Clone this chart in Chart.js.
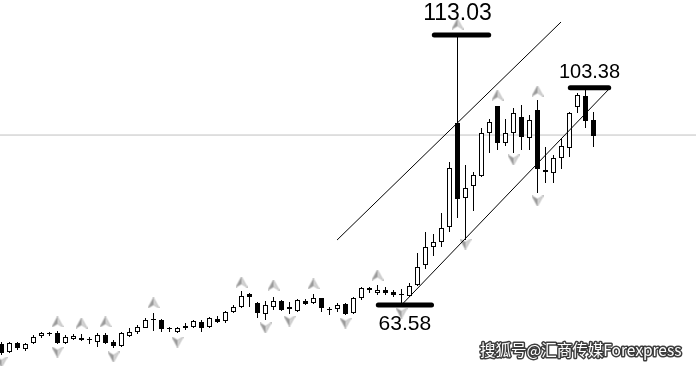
<!DOCTYPE html>
<html>
<head>
<meta charset="utf-8">
<script src="https://cdn.jsdelivr.net/npm/chart.js@4.4.0/dist/chart.umd.min.js"></script>
<style>
html,body{margin:0;padding:0;background:#fff;}
#wrap{position:relative;width:696px;height:366px;}
</style>
</head>
<body>
<div id="wrap"><canvas id="c"></canvas></div>
<script>
// ---- data ----
const opens  = [56.44,54.97,56.62,55.52,56.62,57.90,58.27,58.45,56.62,57.35,57.54,57.17,56.80,58.08,56.80,56.07,57.90,58.63,59.37,60.83,
                60.83,59.18,58.63,59.73,59.55,60.47,59.55,61.02,60.65,62.30,63.21,65.59,63.95,61.93,63.21,64.31,62.85,62.48,64.31,63.95,
                64.86,62.66,62.85,63.76,62.11,64.86,66.69,65.78,66.33,65.96,65.41,65.23,67.24,70.91,74.20,75.12,77.86,96.91,83.18,85.37,
                87.20,95.08,100.03,93.25,95.08,98.01,94.17,99.29,88.30,87.75,90.50,92.33,99.84,101.86,97.46];
const highs  = [56.80,56.80,56.80,56.62,58.08,58.63,58.63,58.82,58.08,58.27,58.27,57.72,58.45,58.45,57.17,58.63,59.37,59.92,61.20,62.11,
                61.02,59.55,59.55,60.28,60.83,60.83,61.38,61.56,62.48,63.58,66.14,65.78,64.13,64.31,65.04,64.49,64.13,64.68,64.68,65.59,
                64.86,63.21,63.95,63.95,65.04,66.88,66.88,67.24,66.88,66.33,66.50,67.61,73.10,76.95,76.58,80.43,89.77,113.03,89.22,87.94,
                96.00,97.64,100.03,97.64,99.66,100.21,98.38,101.13,92.52,91.05,93.98,98.93,102.41,103.38,98.93];
const lows   = [54.42,54.79,55.34,55.15,56.44,57.54,57.90,56.44,56.44,57.17,56.99,56.44,55.89,56.44,55.70,55.89,57.72,58.27,59.37,58.82,
                58.63,58.63,58.45,59.00,59.37,58.63,59.37,60.28,60.28,62.11,63.03,63.21,61.20,60.83,62.66,62.48,61.93,62.30,63.58,63.76,
                62.30,61.75,62.30,61.75,61.93,64.49,65.78,65.41,65.41,65.04,63.58,65.04,67.06,70.17,72.55,74.20,76.95,79.51,75.48,80.80,
                87.02,91.42,91.97,92.70,91.42,91.97,91.97,84.09,85.92,85.92,88.49,90.69,98.74,96.00,92.52];
const closes = [54.79,56.62,55.70,56.44,57.72,58.45,58.27,56.62,57.72,57.90,57.17,57.17,58.08,56.62,56.07,58.45,58.63,59.55,60.83,60.90,
                59.18,59.18,59.37,59.37,60.65,59.37,61.20,60.47,62.30,63.21,65.23,65.04,62.11,63.58,64.31,62.66,63.21,64.49,63.76,64.86,
                63.03,62.66,63.58,61.93,64.86,66.69,66.33,66.33,65.78,65.41,65.41,67.06,70.54,74.20,75.12,77.68,88.67,82.99,85.01,87.39,
                95.08,97.10,93.25,95.08,98.74,94.35,97.46,88.49,87.94,90.50,92.70,98.74,102.04,97.28,94.53];

// fractal arrows: candle index and price where the arrow sits
const upArrowIdx     = [7, 10, 13, 19, 30, 34, 39, 47, 57, 62, 67];
const upArrowPrice   = [60.47, 60.28, 60.47, 63.95, 67.79, 67.24, 67.43, 69.07, 115.04, 102.04, 102.77];
const downArrowIdx   = [0, 7, 14, 22, 33, 36, 43, 50, 58, 64, 67];
const downArrowPrice = [53.14, 54.97, 54.06, 56.80, 59.37, 60.65, 60.28, 62.11, 74.75, 90.14, 82.63];

// trend lines (candle index, price)
const upperLineX = [41.94, 69.94];
const upperLineY = [75.48, 115.41];
const lowerLineX = [50.0, 76.06];
const lowerLineY = [63.58, 103.32];

// marked extremes: price, bar start/end index, label
const markPrices = [113.03, 63.58, 103.38];
const markFrom   = [54.1, 47.1, 71.1];
const markTo     = [60.9, 53.75, 75.9];
const markLabels = ['113.03', '63.58', '103.38'];

const currentPrice = 94.71;
const watermark = '搜狐号@汇商传媒Forexpress';

// ---- build ----
const idx = opens.map((_, i) => i);
const bodyData = idx.map(i => ({x: i, y: [opens[i], closes[i]]}));
const wickData = idx.map(i => ({x: i, y: [lows[i], highs[i]]}));
const bodyColors = idx.map(i => closes[i] >= opens[i] ? '#ffffff' : '#000000');

function makeArrow(up) {
  const c = document.createElement('canvas');
  c.width = 12; c.height = 11;
  const g = c.getContext('2d');
  if (!up) { g.translate(0, 11); g.scale(1, -1); }
  g.fillStyle = '#9a9a9a';
  g.beginPath(); g.moveTo(6, 0); g.lineTo(6, 7.5); g.lineTo(0, 11); g.closePath(); g.fill();
  g.fillStyle = '#d2d2d2';
  g.beginPath(); g.moveTo(6, 0); g.lineTo(12, 11); g.lineTo(6, 7.5); g.closePath(); g.fill();
  g.strokeStyle = '#b4b4b4'; g.lineWidth = 0.6;
  g.beginPath(); g.moveTo(6, 0); g.lineTo(12, 11); g.lineTo(6, 7.5); g.lineTo(0, 11); g.closePath(); g.stroke();
  return c;
}
const upImg = makeArrow(true), downImg = makeArrow(false);

const markDatasets = markPrices.map((p, i) => ({
  type: 'line', order: 0,
  data: [{x: markFrom[i], y: p}, {x: markTo[i], y: p}],
  borderColor: '#000', borderWidth: 5, borderCapStyle: 'round', pointRadius: 0
}));

const labelPlugin = {
  id: 'labels',
  afterDatasetsDraw(chart) {
    const ctx = chart.ctx, xs = chart.scales.x, ys = chart.scales.y;
    ctx.save();
    ctx.fillStyle = '#000';
    ctx.textAlign = 'center';
    ctx.textBaseline = 'alphabetic';
    const offs = [-15, 25, -10];
    const sizes = [23, 21, 20];
    markPrices.forEach((p, i) => {
      const cx = xs.getPixelForValue((markFrom[i] + markTo[i]) / 2);
      const cy = ys.getPixelForValue(p) + offs[i];
      ctx.font = sizes[i] + 'px "Liberation Sans", Arial, sans-serif';
      ctx.fillText(markLabels[i], cx - (i === 0 ? 4 : 0), cy);
    });
    ctx.font = '15.5px "Noto Sans CJK SC", sans-serif';
    ctx.textAlign = 'left';
    ctx.lineJoin = 'round';
    ctx.lineWidth = 3;
    ctx.strokeStyle = 'rgba(40,40,40,0.9)';
    ctx.strokeText(watermark, 480, 356);
    ctx.fillStyle = '#ffffff';
    ctx.fillText(watermark, 480, 356);
    ctx.restore();
  }
};

new Chart(document.getElementById('c'), {
  type: 'bar',
  data: {
    datasets: [
      ...markDatasets,
      { type: 'line', order: 0, data: upperLineX.map((x, i) => ({x, y: upperLineY[i]})),
        borderColor: '#000', borderWidth: 1, pointRadius: 0 },
      { type: 'line', order: 0, data: lowerLineX.map((x, i) => ({x, y: lowerLineY[i]})),
        borderColor: '#000', borderWidth: 1, pointRadius: 0 },
      { type: 'line', order: 1, showLine: false, data: upArrowIdx.map((x, i) => ({x, y: upArrowPrice[i]})),
        pointStyle: upImg, pointRadius: 6 },
      { type: 'line', order: 1, showLine: false, data: downArrowIdx.map((x, i) => ({x, y: downArrowPrice[i]})),
        pointStyle: downImg, pointRadius: 6 },
      { type: 'bar', order: 2, data: bodyData, backgroundColor: bodyColors, borderColor: '#000',
        borderWidth: 1, borderSkipped: false, barThickness: 5, grouped: false, minBarLength: 1, inflateAmount: 0 },
      { type: 'bar', order: 3, data: wickData, backgroundColor: '#000', borderWidth: 0,
        barThickness: 1, grouped: false, inflateAmount: 0 },
      { type: 'line', order: 4, data: [{x: -1, y: currentPrice}, {x: 90, y: currentPrice}],
        borderColor: '#c0c0c0', borderWidth: 1, pointRadius: 0 }
    ]
  },
  options: {
    responsive: true, maintainAspectRatio: false, animation: false,
    layout: { padding: 0, autoPadding: false },
    plugins: { legend: { display: false }, tooltip: { enabled: false } },
    scales: {
      x: { type: 'linear', display: false, min: -0.1875, max: 86.8125, offset: false },
      y: { type: 'linear', display: false, min: 52.41, max: 119.44 }
    }
  },
  plugins: [labelPlugin]
});
</script>
</body>
</html>
